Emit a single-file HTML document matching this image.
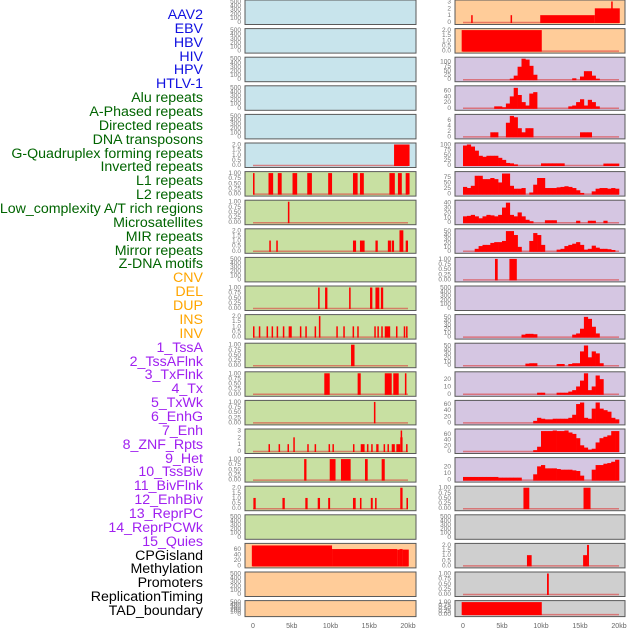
<!DOCTYPE html>
<html><head><meta charset="utf-8"><style>
body{margin:0;background:#fff;width:630px;height:630px;overflow:hidden;font-family:"Liberation Sans",sans-serif}
#labels div{position:absolute;right:427px;font-size:14.2px;line-height:14px;white-space:nowrap}
</style></head><body>
<div id="labels"></div>
<svg id="chart" width="630" height="630" style="position:absolute;left:0;top:0"></svg>
<script>
const labelNames=["AAV2","EBV","HBV","HIV","HPV","HTLV-1","Alu repeats","A-Phased repeats","Directed repeats","DNA transposons","G-Quadruplex forming repeats","Inverted repeats","L1 repeats","L2 repeats","Low_complexity A/T rich regions","Microsatellites","MIR repeats","Mirror repeats","Z-DNA motifs","CNV","DEL","DUP","INS","INV","1_TssA","2_TssAFlnk","3_TxFlnk","4_Tx","5_TxWk","6_EnhG","7_Enh","8_ZNF_Rpts","9_Het","10_TssBiv","11_BivFlnk","12_EnhBiv","13_ReprPC","14_ReprPCWk","15_Quies","CPGisland","Methylation","Promoters","ReplicationTiming","TAD_boundary"];
const labelColors=[...Array(6).fill("#1010e0"),...Array(13).fill("#006400"),...Array(5).fill("#ffa500"),...Array(15).fill("#a020f0"),...Array(5).fill("#000")];
const xTickVals=[0,5,10,15,20];
const xTickLabels=["0","5kb","10kb","15kb","20kb"];
const T500=[0,100,200,300,400,500],T1=[0,0.25,0.5,0.75,1],T2=[0,0.5,1,1.5,2];
const T1L=["0.00","0.25","0.50","0.75","1.00"],T2L=["0.0","0.5","1.0","1.5","2.0"];
const leftBg=["#c8e4ec","#c8e4ec","#c8e4ec","#c8e4ec","#c8e4ec","#c8e4ec",...Array(13).fill("#c8e0a2"),"#ffcc99","#ffcc99","#ffcc99"];
const leftYmax=[500,500,500,500,500,2,1,1,2,500,1,2,1,1,1,3,1,2,500,74,500,500];
const leftBars=[[],[],[],[],[],
[[18.2,20.2,2]],
[[0,0.2,1],[2.0,2.6,1],[3.2,3.7,1],[5.1,5.7,1],[7.0,7.6,1],[9.7,10.2,1],[12.9,13.5,1],[13.8,14.3,1],[17.6,18.3,1],[18.7,19.2,1],[19.7,20.2,1]],
[[4.5,4.7,1]],
[[2.1,2.3,1],[3.0,3.2,1],[12.9,13.3,1],[13.8,14.4,1],[15.8,16.1,1],[17.4,17.8,1],[17.9,18.2,1],[18.9,19.4,2],[19.7,20.0,1]],
[],
[[8.4,8.6,1],[9.3,9.6,1],[12.4,12.6,1],[15.1,15.4,1],[15.8,16.3,1],[16.5,16.8,1]],
[[0,0.15,1],[0.75,0.9,1],[1.75,1.9,1],[2.4,2.55,1],[3.05,3.2,1],[3.85,4.0,1],[4.6,5.0,1],[6.05,6.2,1],[6.75,6.9,1],[7.95,8.1,1],[8.5,8.7,2],[10.75,10.9,1],[11.65,11.8,1],[12.85,13.0,1],[13.45,13.6,1],[15.65,15.8,1],[16.05,16.2,1],[16.55,16.7,1],[17.0,17.7,1],[18.45,18.6,1],[19.45,19.6,1],[19.75,19.9,1]],
[[12.65,13.1,1]],
[[9.2,9.9,1],[13.5,13.9,1],[17.0,17.9,1],[18.1,18.8,1],[19.6,19.8,1]],
[[15.6,15.8,1]],
[[2.0,2.15,1],[3.3,3.45,1],[4.45,4.6,1],[5.2,5.35,2],[7.0,7.15,1],[7.95,8.1,1],[9.75,9.9,1],[10.25,10.4,1],[12.9,13.05,1],[13.9,14.4,1],[14.7,14.9,1],[15.25,15.4,1],[15.9,16.2,1],[16.85,17.0,1],[17.35,17.5,1],[17.9,18.3,1],[18.5,19.0,1],[19.0,19.3,2],[19.05,19.2,3],[19.75,19.9,1]],
[[6.6,6.9,1],[9.9,10.65,1],[11.35,12.6,1],[14.45,14.8,1],[16.6,17.0,1]],
[[0.05,0.35,1],[3.8,4.1,1],[6.75,7.05,1],[8.35,8.65,1],[9.7,9.95,1],[12.9,13.25,1],[13.8,14.0,1],[15.2,15.45,1],[15.75,15.95,1],[19.0,19.3,2],[19.8,20.0,1]],
[],
[[-0.15,10.2,72],[10.2,18.6,59],[18.6,18.9,57],[18.9,19.3,59],[19.3,20.1,57]],
[],[]];
const leftTicks=[T500,T500,T500,T500,T500,T2,T1,T1,T2,T500,T1,T2,T1,T1,T1,[0,1,2,3],T1,T2,T500,[0,20,40,60],T500,T500];
const rightBg=["#ffcc99","#ffcc99",...Array(15).fill("#d5c6e2"),...Array(5).fill("#cfcfcf")];
const rightYmax=[3,2,115,72,7.5,100,92,42,52,1,500,52,52,28,67,72,31,1,500,2,1,1];
const hbvBins=[0,0,0,0,0,0,0,0,0,0,0,0,3,20,70,115,110,75,25,0,0,0,0,0,0,0,0,0,5,0,15,45,45,20,3,0,0,0,0,0];
const hivBins=[0,0,0,0,0,0,0,0,5,5,2,15,40,70,45,20,8,50,55,0,0,0,0,0,0,0,0,5,8,20,30,8,28,20,5,0,0,0,0,0];
const hpvBins=[0,0,0,0,0,0,0,1.5,1.5,0,0,5,7.5,7,3,1.5,3,3,0,0,0,0,0,0,0,0,0,0,0,0,1.5,1.5,1.5,0,0,0,0,0,0,0];
const htlvBins=[95,100,90,70,45,40,45,45,45,35,25,10,8,3,0,0,0,0,0,0,8,8,8,8,8,8,0,0,0,0,0,0,0,0,0,0,7,7,7,7];
const aluBins=[30,25,35,80,80,65,65,70,65,50,90,90,35,22,22,25,0,5,40,70,70,25,25,25,28,30,33,30,25,15,3,0,0,10,22,25,25,22,25,22];
const l2Bins=[12,13,15,12,8,12,15,14,12,15,30,40,15,12,20,12,5,2,0,0,0,4,4,4,0,0,0,0,0,3,0,0,3,3,0,0,3,0,0,0];
const microBins=[0,0,0,5,12,15,15,20,22,22,25,50,50,40,10,0,0,25,45,40,15,0,0,0,3,5,12,15,18,22,15,3,5,13,8,5,5,4,2,0];
const r12Bins=[0,0,0,0,0,0,0,0,0,0,0,0,0,0,0,5,7,7,6,0,0,0,0,0,0,0,0,0,5,8,20,50,45,25,8,0,0,0,0,0];
const r13Bins=[0,0,0,0,0,0,0,0,0,0,0,0,0,0,0,0,4,5,5,0,0,0,0,0,3,3,0,3,5,5,35,50,20,35,30,5,0,0,0,0];
const r14Bins=[0,0,0,0,0,0,0,0,0,0,0,0,0,0,0,0,0,0,0,1.5,1.5,0,0,0,1.5,1.5,1.5,3,5,10,18,28,5,10,25,20,0,0,0,0];
const r15Bins=[0,0,0,0,0,0,0,0,0,0,0,0,0,0,0,0,0,0,5,15,12,10,10,12,12,12,12,15,25,60,65,15,12,45,65,45,40,35,15,10];
const r16Bins=[0,0,0,0,0,0,0,0,0,0,0,0,0,0,0,0,0,0,3,15,70,70,70,72,70,70,72,65,60,45,20,12,5,8,30,45,50,55,70,70];
const r17Bins=[4,4,4,4,4,4,4,4,4,3,3,3,3,3,3,0,0,0,8,20,22,17,17,17,16,15,15,15,14,13,6,0,0,15,22,22,24,25,27,30];
const rightData=[
{bars:[[1.05,1.2,1],[6.1,6.25,1],[9.9,16.9,1],[16.9,20.1,2],[19.0,19.15,3]]},
{bars:[[-0.17,10.1,2]]},
{bins:hbvBins},{bins:hivBins},{bins:hpvBins},{bins:htlvBins},{bins:aluBins},{bins:l2Bins},{bins:microBins},
{bars:[[4.1,4.45,1],[5.95,6.9,1]]},
{empty:true},
{bins:r12Bins},{bins:r13Bins},{bins:r14Bins},{bins:r15Bins},{bins:r16Bins},{bins:r17Bins},
{bars:[[7.75,8.5,1],[15.45,16.35,1]]},
{empty:true},
{bars:[[8.2,8.8,1],[15.4,15.9,1],[15.9,16.15,2]]},
{bars:[[10.77,11.0,1]]},
{bars:[[-0.17,10.1,1]]}];
const rightTicks=[[0,1,2,3],T2,[0,25,50,75,100],[0,20,40,60],[0,2,4,6],[0,25,50,75,100],[0,25,50,75],[0,10,20,30,40],[0,10,20,30,40,50],T1,T500,[0,10,20,30,40,50],[0,10,20,30,40,50],[0,10,20],[0,20,40,60],[0,20,40,60],[0,10,20],T1,T500,T2,T1,T1];

const NS="http://www.w3.org/2000/svg";
const svg=document.getElementById('chart');
function mk(tag,attrs,parent){const e=document.createElementNS(NS,tag);for(const k in attrs)e.setAttribute(k,attrs[k]);(parent||svg).appendChild(e);return e;}
const cols=[{x0:245,x1:416,zero:253,twenty:408},{x0:455,x1:625,zero:463,twenty:619}];
function rowTop(i){return i*28.6;}
function rowH(i){return i===21?16:24.5;}
function fmtTick(v,ticks){if(ticks===T1)return T1L[ticks.indexOf(v)];if(ticks===T2)return T2L[ticks.indexOf(v)];return String(v);}
function drawPanel(c,i,bg,ymax,ticks,draw,empty){
  const col=cols[c],top=rowTop(i),h=rowH(i);
  const xs=kb=>col.zero+(kb/20)*(col.twenty-col.zero);
  const y0=top+h-2.5,y1=top+1.5;
  const ys=v=>y0-(v/ymax)*(y0-y1);
  const g=mk('g',{});
  
  
  mk('rect',{x:col.x0,y:top,width:col.x1-col.x0,height:h,fill:bg,stroke:'#5a5a5a','stroke-width':1},g);
  const tg=mk('g',{},g);
  
  
  ticks.forEach(v=>{const t=mk('text',{x:col.x0-4,y:ys(v)+2,'font-size':6.5,fill:'#777','text-anchor':'end'},tg);t.textContent=fmtTick(v,ticks);});
  if(empty)return;
  mk('line',{x1:xs(0),x2:xs(20),y1:y0+0.5,y2:y0+0.5,stroke:'rgba(220,60,60,0.6)','stroke-width':1.5},g);
  draw(g,xs,ys,y0);
}
function drawBars(g,xs,ys,y0,bars){
  bars.forEach(b=>{const x=xs(b[0]),w=Math.max(1.5,xs(b[1])-x),y=ys(b[2]);
    const r=mk('rect',{x:x,y:y,width:w,height:y0-y+1,fill:'#ff0000'},g);
    
    });
}
function drawBins(g,xs,ys,y0,bins){
  bins.forEach((v,k)=>{if(!v)return;const x=xs(k*0.5),w=xs(k*0.5+0.5)-x,y=ys(v);
    const r=mk('rect',{x:x,y:y,width:w+0.3,height:y0-y+1,fill:'#ff0000'},g);
    
    });
}
for(let i=0;i<22;i++){
  drawPanel(0,i,leftBg[i],leftYmax[i],leftTicks[i],(g,xs,ys,y0)=>drawBars(g,xs,ys,y0,leftBars[i]),leftYmax[i]===500);
  const d=rightData[i];
  drawPanel(1,i,rightBg[i],rightYmax[i],rightTicks[i],(g,xs,ys,y0)=>{if(d.bars)drawBars(g,xs,ys,y0,d.bars);else drawBins(g,xs,ys,y0,d.bins);},!!d.empty);
}
cols.forEach((col,c)=>{
  const ag=mk('g',{});
  
  
  xTickVals.forEach((v,k)=>{const t=mk('text',{x:col.zero+(v/20)*(col.twenty-col.zero),y:628,'font-size':7,fill:'#666','text-anchor':'middle'},ag);t.textContent=xTickLabels[k];});
});
const lab=document.getElementById('labels');
labelNames.forEach((n,k)=>{const d=document.createElement('div');
  
  
  d.style.top=(8+k*13.86)+'px';d.style.color=labelColors[k];d.textContent=n;lab.appendChild(d);});
</script>
</body></html>
